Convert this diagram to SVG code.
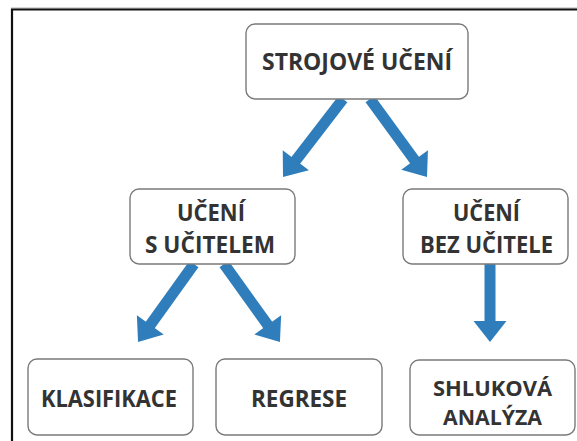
<svg xmlns="http://www.w3.org/2000/svg" width="577" height="441" viewBox="0 0 577 441">
<style>
.box{fill:#fff;stroke:#7a7a7a;stroke-width:1.4}
.lbl{font-family:"Open Sans","Liberation Sans",sans-serif;font-weight:bold;font-size:23px;fill:#333;text-anchor:middle}
.sm{font-size:22px}
.arr{stroke:#2f7dba;stroke-width:11;fill:none;marker-end:url(#head)}
</style>
<defs>
<marker id="head" markerUnits="userSpaceOnUse" orient="auto" refX="0" refY="0" markerWidth="24" markerHeight="36" viewBox="-2 -17 24 34" overflow="visible">
<path d="M-1,-16.5 L20,0 L-1,16.5 Z" fill="#2f7dba"/>
</marker>
</defs>
<rect width="577" height="441" fill="#fff"/>
<line x1="11" y1="8" x2="580" y2="8" stroke="#b0b0b0" stroke-width="1"/>
<path d="M12,450 V9.5 H580" fill="none" stroke="#111" stroke-width="2.2"/>
<g id="connectors">
<line class="arr" x1="343" y1="99" x2="295.2" y2="161.1"/>
<line class="arr" x1="370" y1="99" x2="415.2" y2="160.9"/>
<line class="arr" x1="194" y1="264" x2="149.7" y2="325.8"/>
<line class="arr" x1="224" y1="264" x2="268.3" y2="325.8"/>
<line class="arr" x1="490" y1="264" x2="490" y2="322"/>
</g>
<g id="strojove-uceni">
<rect class="box" x="246" y="24" width="222" height="75" rx="9"/>
<text class="lbl" x="357" y="70" textLength="190" lengthAdjust="spacingAndGlyphs">STROJOVÉ UČENÍ</text>
</g>
<g id="uceni-s-ucitelem">
<rect class="box" x="130" y="189" width="165" height="75" rx="9"/>
<text class="lbl" x="211" y="221" textLength="68" lengthAdjust="spacingAndGlyphs">UČENÍ</text>
<text class="lbl" x="210" y="253" textLength="130" lengthAdjust="spacingAndGlyphs">S UČITELEM</text>
</g>
<g id="uceni-bez-ucitele">
<rect class="box" x="403" y="189" width="165" height="75" rx="9"/>
<text class="lbl" x="486.5" y="221" textLength="67" lengthAdjust="spacingAndGlyphs">UČENÍ</text>
<text class="lbl" x="486.5" y="253" textLength="133" lengthAdjust="spacingAndGlyphs">BEZ UČITELE</text>
</g>
<g id="klasifikace">
<rect class="box" x="28" y="359" width="165" height="76" rx="9"/>
<text class="lbl" x="109" y="407" textLength="136" lengthAdjust="spacingAndGlyphs">KLASIFIKACE</text>
</g>
<g id="regrese">
<rect class="box" x="216" y="359" width="166" height="76" rx="9"/>
<text class="lbl" x="299" y="407" textLength="96" lengthAdjust="spacingAndGlyphs">REGRESE</text>
</g>
<g id="shlukova-analyza">
<rect class="box" x="410" y="360" width="165" height="75" rx="9"/>
<text class="lbl sm" x="492.5" y="396" textLength="119" lengthAdjust="spacingAndGlyphs">SHLUKOVÁ</text>
<text class="lbl sm" x="492.5" y="425" textLength="99" lengthAdjust="spacingAndGlyphs">ANALÝZA</text>
</g>
</svg>
